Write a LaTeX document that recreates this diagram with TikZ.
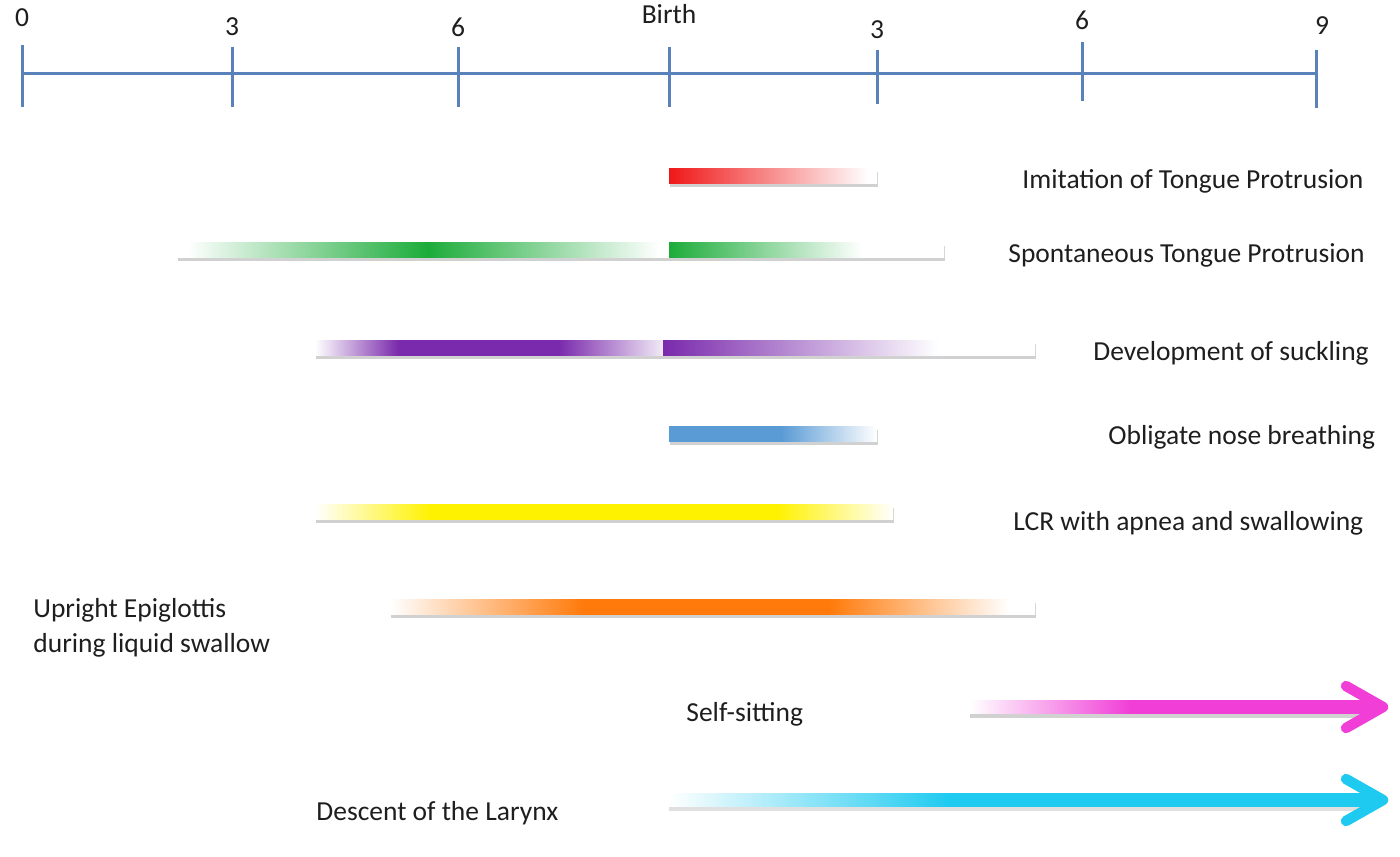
\documentclass[tikz,border=0pt]{standalone}
\usepackage{fontspec}
\setmainfont{Carlito}
\definecolor{axisblue}{RGB}{88,130,185}
\definecolor{cred}{RGB}{240,24,24}
\definecolor{cgreen}{RGB}{28,172,58}
\definecolor{cpurple}{RGB}{122,42,172}
\definecolor{cblue}{RGB}{91,155,213}
\definecolor{cyellow}{RGB}{255,242,0}
\definecolor{corange}{RGB}{255,122,10}
\definecolor{cmagenta}{RGB}{240,62,215}
\definecolor{ccyan}{RGB}{30,202,240}
\definecolor{txt}{RGB}{30,30,30}
\pgfdeclarehorizontalshading{redsh}{100bp}{color(0bp)=(cred);color(25bp)=(cred);color(73bp)=(white);color(100bp)=(white)}
\pgfdeclarehorizontalshading{greenL}{100bp}{color(0bp)=(white);color(26bp)=(white);color(50.5bp)=(cgreen);color(74bp)=(white);color(100bp)=(white)}
\pgfdeclarehorizontalshading{greenR}{100bp}{color(0bp)=(cgreen);color(25bp)=(cgreen);color(60bp)=(white);color(100bp)=(white)}
\pgfdeclarehorizontalshading{purpleL}{100bp}{color(0bp)=(white);color(25bp)=(white);color(37bp)=(cpurple);color(60bp)=(cpurple);color(75bp)=(cpurple!10);color(100bp)=(cpurple!10)}
\pgfdeclarehorizontalshading{purpleR}{100bp}{color(0bp)=(cpurple);color(25bp)=(cpurple);color(62bp)=(white);color(100bp)=(white)}
\pgfdeclarehorizontalshading{bluesh}{100bp}{color(0bp)=(cblue);color(25bp)=(cblue);color(52bp)=(cblue);color(75bp)=(white);color(100bp)=(white)}
\pgfdeclarehorizontalshading{yellowsh}{100bp}{color(0bp)=(white);color(25bp)=(white);color(35bp)=(cyellow);color(65bp)=(cyellow);color(75bp)=(white);color(100bp)=(white)}
\pgfdeclarehorizontalshading{orangesh}{100bp}{color(0bp)=(white);color(25bp)=(white);color(40bp)=(corange);color(59bp)=(corange);color(73bp)=(white);color(100bp)=(white)}
\pgfdeclarehorizontalshading{magentash}{100bp}{color(0bp)=(white);color(25bp)=(white);color(45bp)=(cmagenta);color(100bp)=(cmagenta)}
\pgfdeclarehorizontalshading{cyansh}{100bp}{color(0bp)=(white);color(25bp)=(white);color(45bp)=(ccyan);color(100bp)=(ccyan)}
\newcommand\tlbar[4]{%
  \fill[black!18] (#2+1,#4-4) rectangle (#3+1,#4+11);
  \shade[shading=#1] (#2,#4-7.5) rectangle (#3,#4+7.5);}
\begin{document}
\begin{tikzpicture}[x=0.5pt,y=-0.5pt,
  font=\fontsize{13.75}{16.5}\selectfont,
  axisline/.style={draw=axisblue, line width=1.5pt},
  lbl/.style={text=txt, inner sep=0pt},
  tiplines/.style={line width=5.2pt, line cap=round, line join=round}]
\useasboundingbox (0,0) rectangle (1400,856);
% axis
\coordinate (a0) at (22,74);
\coordinate (a3) at (232,74);
\coordinate (a6) at (458,74);
\coordinate (ab) at (669,74);
\coordinate (b3) at (877,74);
\coordinate (b6) at (1082,74);
\coordinate (b9) at (1316,74);
\draw[axisline] (a0) -- (b9);
\draw[axisline] (22,45) -- (22,107);
\draw[axisline] (232,47) -- (232,107);
\draw[axisline] (458,47) -- (458,107);
\draw[axisline] (669,47) -- (669,107);
\draw[axisline] (877,50) -- (877,104);
\draw[axisline] (1082,42) -- (1082,101);
\draw[axisline] (1316,50) -- (1316,108);
\node[lbl] (l0) at (22,18) {0};
\node[lbl] (l3) at (232,27) {3};
\node[lbl] (l6) at (458,27) {6};
\node[lbl] (lb) at (669,14) {Birth};
\node[lbl] (m3) at (877,30) {3};
\node[lbl] (m6) at (1082,20) {6};
\node[lbl] (m9) at (1322,26) {9};
% bars
\tlbar{redsh}{669}{877}{176}
\tlbar{greenL}{177}{669}{250}
\tlbar{greenR}{669}{944}{250}
\tlbar{purpleL}{315}{663}{348}
\tlbar{purpleR}{663}{1035}{348}
\tlbar{bluesh}{669}{877}{434}
\tlbar{yellowsh}{315}{893}{512}
\tlbar{orangesh}{390}{1035}{607}
% labels
\node[lbl, anchor=west] (t1) at (1022,181) {Imitation of Tongue Protrusion};
\node[lbl, anchor=west] (t2) at (1008,255) {Spontaneous Tongue Protrusion};
\node[lbl, anchor=west] (t3) at (1093,353) {Development of suckling};
\node[lbl, anchor=west] (t4) at (1108,437) {Obligate nose breathing};
\node[lbl, anchor=west] (t5) at (1013,523) {LCR with apnea and swallowing};
\node[lbl, anchor=west, align=left] (t6) at (33,628) {Upright Epiglottis\\[1pt]during liquid swallow};
\node[lbl, anchor=west] (t7) at (686,714) {Self-sitting};
\node[lbl, anchor=west] (t8) at (316,813) {Descent of the Larynx};
% arrows
\coordinate (ss1) at (970,707);
\coordinate (ss2) at (1383,707);
\coordinate (dl1) at (669,800);
\coordinate (dl2) at (1383,800);
\fill[black!18] (970,711) rectangle (1372,718);
\shade[shading=magentash] (ss1) ++(0,-6.5) rectangle (1372,713.5);
\draw[tiplines, cmagenta] (1346,686) -- (ss2) -- (1346,728);
\fill[black!12] (669,804) rectangle (1372,811);
\shade[shading=cyansh] (dl1) ++(0,-6.5) rectangle (1372,806.5);
\draw[tiplines, ccyan] (1346,779) -- (dl2) -- (1346,821);
\end{tikzpicture}
\end{document}
